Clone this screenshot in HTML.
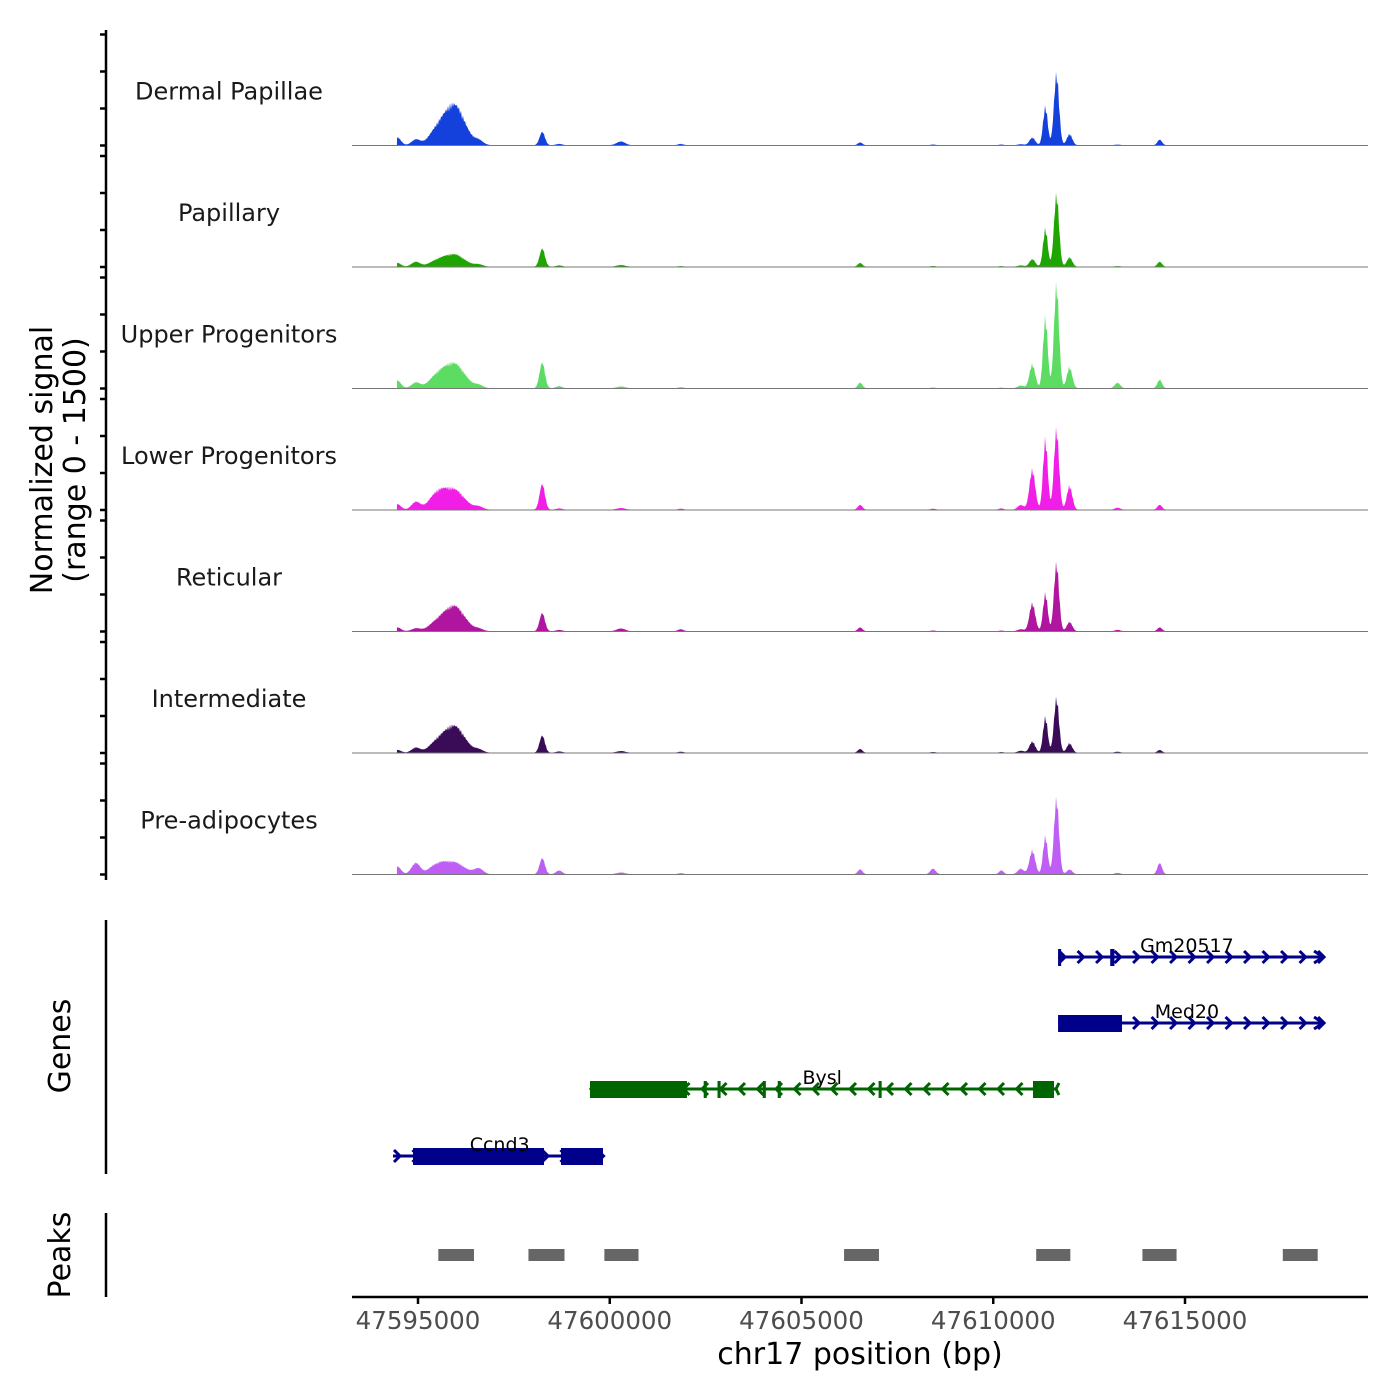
<!DOCTYPE html>
<html><head><meta charset="utf-8"><style>
html,body{margin:0;padding:0;background:#fff;}
svg{display:block;font-family:"DejaVu Sans","Liberation Sans",sans-serif;}
</style></head><body>
<svg id="chart" width="1400" height="1400" viewBox="0 0 1400 1400" xmlns="http://www.w3.org/2000/svg">
<g id="tracks"></g>
<g id="genes"></g>
<g id="peaks"></g>
<g id="axes"></g>
<text transform="translate(52,460) rotate(-90)" text-anchor="middle" font-size="30" fill="#000">Normalized signal</text>
<text transform="translate(85,460) rotate(-90)" text-anchor="middle" font-size="30" fill="#000">(range 0 - 1500)</text>
<text transform="translate(70,1046) rotate(-90)" text-anchor="middle" font-size="30" fill="#000">Genes</text>
<text transform="translate(70,1255) rotate(-90)" text-anchor="middle" font-size="30" fill="#000">Peaks</text>
<text x="860" y="1364" text-anchor="middle" font-size="30" fill="#000">chr17 position (bp)</text>
</svg>
<script>
// ---- data ----
const trackNames = ["Dermal Papillae","Papillary","Upper Progenitors","Lower Progenitors","Reticular","Intermediate","Pre-adipocytes"];
const trackColors = ["#1440dc","#1fa500","#5cdc62","#f01ee6","#b0159f","#3a0c58","#bf5ef5"];
const peakCenters = [47594470,47594940,47595510,47595960,47596580,47598240,47598680,47600290,47601850,47606530,47608430,47610210,47610720,47611020,47611360,47611650,47611990,47613240,47614340];
const peakWidths  = [90,110,220,260,120,70,80,110,70,60,70,60,80,75,60,65,70,70,60];
const dermalPapillae    = [110,80,200,560,60,190,20,55,20,40,10,10,15,110,550,1020,160,10,80];
const papillary         = [55,70,80,170,30,260,20,25,10,55,10,10,20,110,540,1030,135,10,70];
const upperProgenitors  = [110,80,165,340,40,365,30,25,15,80,10,10,40,340,1010,1480,300,80,120];
const lowerProgenitors  = [80,110,220,270,40,365,20,25,15,70,15,20,70,570,1010,1150,340,30,70];
const reticular         = [55,40,120,350,30,260,20,40,30,55,10,10,30,400,540,970,135,20,55];
const intermediate      = [40,70,140,370,40,245,20,25,15,55,10,10,30,160,510,780,135,15,40];
const preAdipocytes     = [110,160,130,160,80,230,55,25,15,70,80,55,80,340,540,1080,70,20,160];
const seriesValues = [dermalPapillae,papillary,upperProgenitors,lowerProgenitors,reticular,intermediate,preAdipocytes];
const xTicks = [47595000,47600000,47605000,47610000,47615000];
const xTickLabels = ["47595000","47600000","47605000","47610000","47615000"];
const geneNames = ["Gm20517","Med20","Bysl","Ccnd3"];
const geneStarts = [47611690,47611690,47599485,47594348];
const geneEnds   = [47618600,47618600,47611636,47599824];
const geneStrand = [1,1,-1,1];
const geneColors = ["#00008b","#00008b","#006400","#00008b"];
const geneExons = [
  [[47611690,47611770],[47613050,47613160]],
  [[47611690,47613357]],
  [[47599485,47602014],[47602450,47602530],[47602810,47602890],[47603990,47604070],[47604380,47604460],[47607010,47607090],[47611036,47611584]],
  [[47594870,47598285],[47598729,47599824]]
];
const geneLabelPos = [47615050,47615050,47605540,47597130];
const peakStarts = [47595530,47597880,47599860,47606110,47611120,47613890,47617550];
const peakEnds   = [47596460,47598820,47600750,47607020,47612010,47614780,47618460];

// ---- scales ----
const X0 = 418, PXBP = 0.038350;
function xs(bp){ return X0 + (bp-47595000)*PXBP; }
const trackTop = 30, trackH = 121.5, plotL = 352, plotR = 1368;
function baseline(i){ return trackTop + (i+1)*trackH - 6; }
function ys(v,i){ return baseline(i) - v*111/1500; }

const NS = "http://www.w3.org/2000/svg";
function mk(tag, attrs, parent){ const e=document.createElementNS(NS,tag); for(const k in attrs) e.setAttribute(k,attrs[k]); parent.appendChild(e); return e; }
const tracksG = document.getElementById('tracks');
const axesG = document.getElementById('axes');

const ax = mk('line',{x1:106,y1:30,x2:106,y2:880,stroke:'#000','stroke-width':2.5},axesG);



seriesValues.forEach((vals,i)=>{
  const g = mk('g',{},tracksG);
  
  
  const b = baseline(i);
  let d = 'M'+xs(47594450)+','+b;
  for(let px=Math.round(xs(47594450)); px<=Math.round(xs(47618400)); px+=1){
    const bp = 47595000 + (px-X0)/PXBP;
    let v = 4;
    for(let k=0;k<peakCenters.length;k++){
      const z=(bp-peakCenters[k])/peakWidths[k];
      v += vals[k]*Math.exp(-z*z/2);
    }
    v *= 0.8 + 0.2*Math.abs(Math.sin(px*1.7));
    d += ' L'+px+','+ys(v,i).toFixed(1);
  }
  d += ' L'+xs(47618400)+','+b+' Z';
  const p = mk('path',{d:d,fill:trackColors[i],stroke:'none'},g);
  
  
  const bl = mk('line',{x1:plotL,y1:b,x2:plotR,y2:b,stroke:'#777','stroke-width':1},g);
  
  
  const t = mk('text',{x:229,y:b-46,'text-anchor':'middle','font-size':24,fill:'#1a1a1a'},g);
  t.textContent = trackNames[i];
  
  
  for(let k=0;k<4;k++){
    const tk = mk('line',{x1:100,y1:b-k*37,x2:106,y2:b-k*37,stroke:'#000','stroke-width':2.5},g);
    
    
  }
});

// genes
const genesG = document.getElementById('genes');
const gax = mk('line',{x1:106,y1:920,x2:106,y2:1174,stroke:'#000','stroke-width':2.5},axesG);


const geneY = [957,1023,1089,1156];
geneNames.forEach((n,i)=>{
  const g = mk('g',{},genesG);
  
  
  const y = geneY[i], c = geneColors[i];
  const x1 = xs(geneStarts[i]), x2 = xs(geneEnds[i]);
  mk('line',{x1:x1,y1:y,x2:x2,y2:y,stroke:c,'stroke-width':3},g);
  const s = geneStrand[i];
  for(let a=x1+4; a<x2; a+=18.5){
    mk('polyline',{points:(a-3*s)+','+(y-6)+' '+(a+3*s)+','+y+' '+(a-3*s)+','+(y+6),fill:'none',stroke:c,'stroke-width':3},g);
  }
  mk('polyline',{points:(x2-6*s-3)+','+(y-6)+' '+(x2)+','+y+' '+(x2-6*s-3)+','+(y+6),fill:'none',stroke:c,'stroke-width':3},g);
  geneExons[i].forEach(e=>{
    const r = mk('rect',{x:xs(e[0]),y:y-8,width:Math.max(3,xs(e[1])-xs(e[0])),height:17,fill:c},g);
    
    
  });
  const t = mk('text',{x:xs(geneLabelPos[i]),y:y-5,'text-anchor':'middle','font-size':19,fill:'#000'},g);
  t.textContent = n;
  
  
});

// peaks
const peaksG = document.getElementById('peaks');
const pax = mk('line',{x1:106,y1:1213,x2:106,y2:1297,stroke:'#000','stroke-width':2.5},axesG);


peakStarts.forEach((s,i)=>{
  const r = mk('rect',{x:xs(s),y:1249,width:xs(peakEnds[i])-xs(s),height:12,fill:'#666'},peaksG);
  
  
});

// x axis
const xl = mk('line',{x1:plotL,y1:1297,x2:plotR,y2:1297,stroke:'#000','stroke-width':2.5},axesG);


xTicks.forEach((v,i)=>{
  const tk = mk('line',{x1:xs(v),y1:1297,x2:xs(v),y2:1304,stroke:'#000','stroke-width':2.5},axesG);
  
  
  const t = mk('text',{x:xs(v),y:1329,'text-anchor':'middle','font-size':24.5,fill:'#4d4d4d'},axesG);
  t.textContent = xTickLabels[i];
  
  
});
</script>
</body></html>
